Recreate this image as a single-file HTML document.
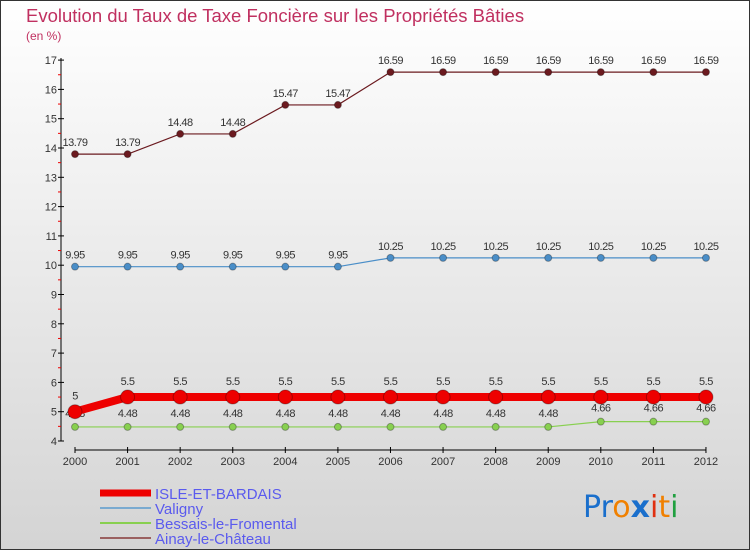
<!DOCTYPE html>
<html><head><meta charset="utf-8"><style>
body{margin:0}
svg{display:block;font-family:"Liberation Sans",sans-serif}
</style></head><body>
<svg id="c" width="750" height="550" viewBox="0 0 750 550">
<defs><linearGradient id="bg" x1="0" y1="0" x2="0" y2="1"><stop offset="0" stop-color="#ffffff"/><stop offset="1" stop-color="#d4d4d4"/></linearGradient></defs>
<rect x="0.5" y="0.5" width="749" height="549" fill="url(#bg)" stroke="#333"/>
<text x="26" y="22" font-size="18.5" fill="#c03060">Evolution du Taux de Taxe Foncière sur les Propriétés Bâties</text>
<text x="26" y="40" font-size="12" fill="#c03060">(en %)</text>
<g id="axes"></g><g id="series"></g><g id="legend"></g>
<text x="583" y="517" font-size="30" font-family="'DejaVu Sans',sans-serif"><tspan fill="#1a6fcc">Pr</tspan><tspan fill="#f08000">o</tspan><tspan fill="#1a6fcc" font-weight="bold">x</tspan><tspan fill="#e03010">i</tspan><tspan fill="#f08000">t</tspan><tspan fill="#20a040">i</tspan></text>
</svg>
<script>
const years=[2000,2001,2002,2003,2004,2005,2006,2007,2008,2009,2010,2011,2012];
const yTicks=[4,5,6,7,8,9,10,11,12,13,14,15,16,17];
const isle=[5,5.5,5.5,5.5,5.5,5.5,5.5,5.5,5.5,5.5,5.5,5.5,5.5];
const valigny=[9.95,9.95,9.95,9.95,9.95,9.95,10.25,10.25,10.25,10.25,10.25,10.25,10.25];
const bessais=[4.48,4.48,4.48,4.48,4.48,4.48,4.48,4.48,4.48,4.48,4.66,4.66,4.66];
const ainay=[13.79,13.79,14.48,14.48,15.47,15.47,16.59,16.59,16.59,16.59,16.59,16.59,16.59];
const names=["ISLE-ET-BARDAIS","Valigny","Bessais-le-Fromental","Ainay-le-Château"];
const NS="http://www.w3.org/2000/svg";
const X=i=>75+i*52.58, Y=v=>441-(v-4)*29.3;
function mk(p,t,a){const e=document.createElementNS(NS,t);for(const k in a)e.setAttribute(k,a[k]);p.appendChild(e);return e;}
const ax=document.getElementById('axes');
let e=mk(ax,'line',{x1:61,y1:58,x2:61,y2:441,stroke:'#000'});


yTicks.forEach(v=>{mk(ax,'line',{x1:58,x2:64,y1:Y(v),y2:Y(v),stroke:'#000'});
 if(v<17)mk(ax,'line',{x1:58,x2:61,y1:Y(v+0.5),y2:Y(v+0.5),stroke:'#e00'});
 const t=mk(ax,'text',{x:57,y:Y(v)+4,'font-size':11,'text-anchor':'end',fill:'#333'});t.textContent=v;
 
 });
e=mk(ax,'line',{x1:75,y1:450,x2:X(12),y2:450,stroke:'#000'});


years.forEach((y,i)=>{mk(ax,'line',{x1:X(i),x2:X(i),y1:447,y2:453,stroke:'#000'});
 const t=mk(ax,'text',{x:X(i),y:465,'font-size':11,'text-anchor':'middle',fill:'#333'});t.textContent=y;
 
 });
const sg=document.getElementById('series');
function series(d,col,lw,r,fmt,nm,dy){const g=mk(sg,'g',{});
 
 
 mk(g,'polyline',{points:d.map((v,i)=>X(i)+','+Y(v)).join(' '),fill:'none',stroke:col,'stroke-width':lw});
 d.forEach((v,i)=>{const c=mk(g,'circle',{cx:X(i),cy:Y(v),r:r,fill:col,stroke:'rgba(0,0,0,0.3)'});
  
  
  const t=mk(g,'text',{x:X(i),y:Y(v)-dy,'font-size':11,'text-anchor':'middle',fill:'#333','letter-spacing':'-0.5'});t.textContent=fmt(v);
  
  });}
series(ainay,'#6b1a1f',1.2,3.5,v=>v,'series-ainay',8);
series(valigny,'#4a8ec8',1.2,3.5,v=>v,'series-valigny',8);
series(bessais,'#88d050',1.2,3.5,v=>v,'series-bessais',10);
series(isle,'#ee0000',8,7,v=>v,'series-isle',12);
const lg=document.getElementById('legend');
const lc=['#ee0000','#7aaad0','#88d050','#9a6060'],lw=[7,2,2,2];
names.forEach((n,i)=>{const y=493+i*15;
 const g=mk(lg,'g',{});
 
 
 mk(g,'line',{x1:100,x2:151,y1:y,y2:y,stroke:lc[i],'stroke-width':lw[i]});
 const t=mk(g,'text',{x:155,y:y+6,'font-size':15,fill:'#5a5aee'});t.textContent=n;});
</script>
</body></html>
